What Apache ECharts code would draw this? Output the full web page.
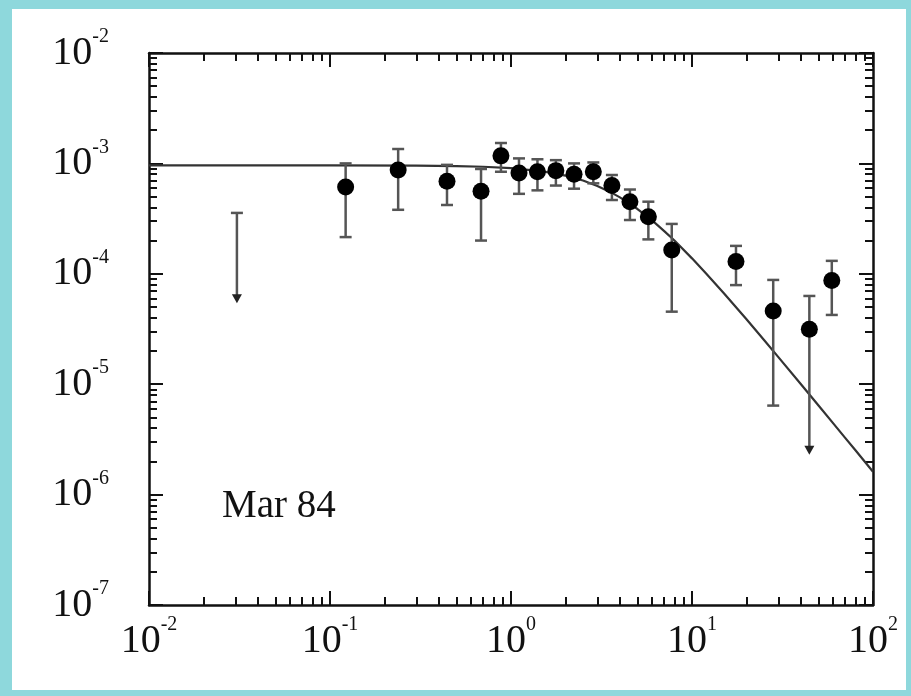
<!DOCTYPE html>
<html>
<head>
<meta charset="utf-8">
<script src="https://cdn.jsdelivr.net/npm/echarts@6/dist/echarts.min.js"></script>
<style>
  html, body { margin: 0; padding: 0; background: #8ed8dc; }
  #panel { position: absolute; left: 12px; top: 9px; width: 894px; height: 681px; background: #ffffff; }
  #chart { position: absolute; left: 0; top: 0; width: 911px; height: 696px; }
</style>
</head>
<body>
<div id="panel"></div>
<div id="chart"></div>
<script>
// ---- data ----
const xTickExp = ['-2', '-1', '0', '1', '2'];
const yTickExp = ['-7', '-6', '-5', '-4', '-3', '-2'];

const dataX  = [0.122, 0.238, 0.443, 0.683, 0.88, 1.107, 1.40, 1.77, 2.23, 2.85, 3.61, 4.54, 5.74, 7.73, 17.5, 28.1, 44.5, 59.2];
const dataY  = [6.1e-4, 8.7e-4, 6.9e-4, 5.6e-4, 1.17e-3, 8.2e-4, 8.4e-4, 8.6e-4, 7.96e-4, 8.4e-4, 6.3e-4, 4.5e-4, 3.29e-4, 1.64e-4, 1.29e-4, 4.6e-5, 3.14e-5, 8.7e-5];
const errHi  = [1.0e-3, 1.35e-3, 9.7e-4, 8.9e-4, 1.53e-3, 1.11e-3, 1.09e-3, 1.07e-3, 1.0e-3, 1.02e-3, 7.85e-4, 5.8e-4, 4.5e-4, 2.83e-4, 1.79e-4, 8.8e-5, null, 1.31e-4];
const errLo  = [2.15e-4, 3.8e-4, 4.2e-4, 2.0e-4, 8.4e-4, 5.3e-4, 5.7e-4, 6.3e-4, 5.9e-4, 6.6e-4, 4.66e-4, 3.07e-4, 2.05e-4, 4.54e-5, 7.9e-5, 6.4e-6, null, 4.24e-5];

// upper limits (bar from top cap down to an arrow)
const limitX   = [0.0306, 44.5];
const limitTop = [3.56e-4, 6.3e-5];
const limitTip = [5.4e-5, 2.3e-6];

// model curve
const curveX = [0.01, 0.1, 0.3, 0.5, 0.7, 1, 1.5, 2, 2.5, 3, 3.5, 4, 5, 6, 7, 8, 10, 12, 15, 20, 25, 30, 40, 50, 60, 70, 80, 100];
const curveY = [9.6e-4, 9.59e-4, 9.55e-4, 9.46e-4, 9.33e-4, 9.06e-4, 8.47e-4, 7.75e-4, 7.0e-4, 6.25e-4, 5.55e-4, 4.92e-4, 3.86e-4, 3.06e-4, 2.45e-4, 2.0e-4, 1.38e-4, 1.0e-4, 6.67e-5, 3.87e-5, 2.51e-5, 1.76e-5, 9.98e-6, 6.41e-6, 4.46e-6, 3.28e-6, 2.52e-6, 1.61e-6];

const panelLabel = 'Mar 84';

// ---- build ----
function minorTicks(minExp, maxExp) {
  const out = [];
  for (let e = minExp; e < maxExp; e++) {
    for (let m = 2; m <= 9; m++) out.push(m * Math.pow(10, e));
  }
  return out;
}
const xMinor = minorTicks(-2, 2);
const yMinor = minorTicks(-7, -2);

const FONT = 'Liberation Serif';
const TXT = '#111';
const rich = {
  b: { fontFamily: FONT, fontSize: 40, color: TXT, lineHeight: 52 },
  e: { fontFamily: FONT, fontSize: 20, color: TXT, lineHeight: 20, verticalAlign: 'top' }
};
function fmt(list, offset) {
  return function (v) {
    const i = Math.round(Math.log10(v)) + offset;
    return '{b|10}{e|' + list[i] + '}';
  };
}

const LINE = { show: true, lineStyle: { color: '#111', width: 2.5 } };

function mkAxis(kind, pos, ticks, major, withLabel) {
  const isX = kind === 'x';
  const a = {
    type: 'log', logBase: 10,
    min: isX ? 0.01 : 1e-7, max: isX ? 100 : 1e-2,
    position: pos,
    axisLine: major ? LINE : { show: false },
    splitLine: { show: false },
    axisTick: { show: true, inside: true, length: major ? 14 : 8, lineStyle: { color: '#111', width: 2 } },
    axisLabel: { show: false }
  };
  if (ticks) a.axisTick.customValues = ticks;
  if (withLabel) {
    a.axisLabel = isX
      ? { show: true, margin: 10, formatter: fmt(xTickExp, 2), rich: rich }
      : { show: true, margin: 40, formatter: fmt(yTickExp, 7), rich: rich };
  }
  return a;
}

const chart = echarts.init(document.getElementById('chart'), null, { renderer: 'canvas' });

const errData = [];
for (let i = 0; i < dataX.length; i++) {
  if (errHi[i] != null && errLo[i] != null) errData.push([dataX[i], errLo[i], errHi[i]]);
}
const limData = limitX.map((x, i) => [x, limitTip[i], limitTop[i]]);

const EB_COLOR = '#555';
const CAP = 6;

chart.setOption({
  backgroundColor: 'transparent',
  animation: false,
  grid: { left: 149, right: 38, top: 53, bottom: 91 },
  xAxis: [
    mkAxis('x', 'bottom', null, true, true),
    mkAxis('x', 'bottom', xMinor, false, false),
    mkAxis('x', 'top', null, true, false),
    mkAxis('x', 'top', xMinor, false, false)
  ],
  yAxis: [
    mkAxis('y', 'left', null, true, true),
    mkAxis('y', 'left', yMinor, false, false),
    mkAxis('y', 'right', null, true, false),
    mkAxis('y', 'right', yMinor, false, false)
  ],
  graphic: [{
    type: 'text', left: 222, top: 487,
    style: { text: panelLabel, fontFamily: FONT, fontSize: 39, fill: TXT }
  }],
  series: [
    {
      type: 'line', name: 'model', xAxisIndex: 0, yAxisIndex: 0,
      data: curveX.map((x, i) => [x, curveY[i]]),
      showSymbol: false, smooth: false,
      lineStyle: { color: '#333', width: 2.2 }, z: 2
    },
    {
      type: 'custom', name: 'errors', xAxisIndex: 0, yAxisIndex: 0,
      data: errData, encode: { x: 0, y: [1, 2] }, z: 3,
      renderItem: function (params, api) {
        const x = api.value(0);
        const lo = api.coord([x, api.value(1)]);
        const hi = api.coord([x, api.value(2)]);
        const st = { stroke: EB_COLOR, lineWidth: 2.5 };
        return { type: 'group', children: [
          { type: 'line', shape: { x1: lo[0], y1: lo[1], x2: hi[0], y2: hi[1] }, style: st },
          { type: 'line', shape: { x1: lo[0] - CAP, y1: lo[1], x2: lo[0] + CAP, y2: lo[1] }, style: st },
          { type: 'line', shape: { x1: hi[0] - CAP, y1: hi[1], x2: hi[0] + CAP, y2: hi[1] }, style: st }
        ]};
      }
    },
    {
      type: 'custom', name: 'limits', xAxisIndex: 0, yAxisIndex: 0,
      data: limData, encode: { x: 0, y: [1, 2] }, z: 3,
      renderItem: function (params, api) {
        const x = api.value(0);
        const tip = api.coord([x, api.value(1)]);
        const top = api.coord([x, api.value(2)]);
        const st = { stroke: EB_COLOR, lineWidth: 2.5 };
        return { type: 'group', children: [
          { type: 'line', shape: { x1: top[0], y1: top[1], x2: tip[0], y2: tip[1] - 6 }, style: st },
          { type: 'line', shape: { x1: top[0] - CAP, y1: top[1], x2: top[0] + CAP, y2: top[1] }, style: st },
          { type: 'polygon', shape: { points: [[tip[0] - 5, tip[1] - 9], [tip[0] + 5, tip[1] - 9], [tip[0], tip[1]]] }, style: { fill: '#222' } }
        ]};
      }
    },
    {
      type: 'scatter', name: 'data', xAxisIndex: 0, yAxisIndex: 0,
      data: dataX.map((x, i) => [x, dataY[i]]),
      symbol: 'circle', symbolSize: 17,
      itemStyle: { color: '#000', opacity: 1 }, z: 4
    }
  ]
});
</script>
</body>
</html>
